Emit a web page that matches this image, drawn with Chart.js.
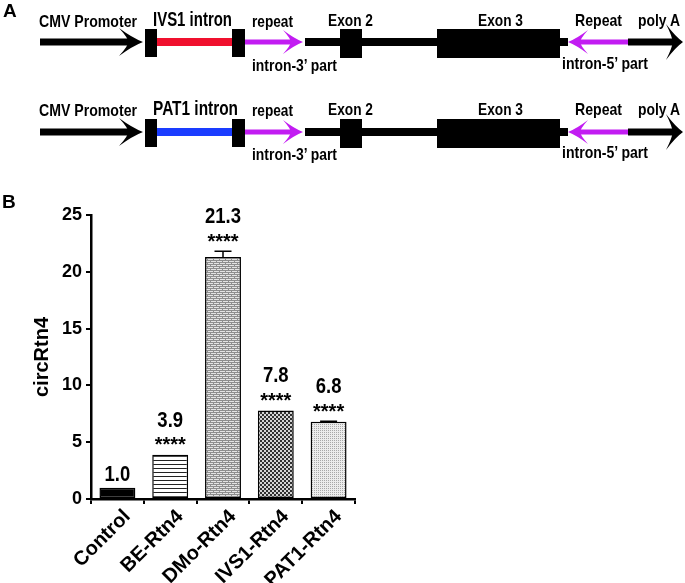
<!DOCTYPE html>
<html><head><meta charset="utf-8">
<script src="https://cdn.jsdelivr.net/npm/chart.js@4.4.0/dist/chart.umd.min.js"></script>
<style>
html,body{margin:0;padding:0;background:#fff;}
#wrap{position:relative;width:685px;height:583px;overflow:hidden;background:#fff;}
#chart{position:absolute;left:0;top:0;}
#schem{position:absolute;left:0;top:0;}
</style></head><body>
<div id="wrap">
<canvas id="chart" width="685" height="583"></canvas>
<svg id="schem" width="685" height="190" xmlns="http://www.w3.org/2000/svg"></svg>
</div>
<script>
// ---- data ----
const categories = ['Control', 'BE-Rtn4', 'DMo-Rtn4', 'IVS1-Rtn4', 'PAT1-Rtn4'];
const values = [1.0, 3.9, 21.3, 7.8, 6.8];
const errors = [0, 0, 0.5, 0, 0.05];
const valueLabels = ['1.0', '3.9', '21.3', '7.8', '6.8'];
const significance = ['', '****', '****', '****', '****'];
const yTicks = [0, 5, 10, 15, 20, 25];
const yTitle = 'circRtn4';
const intronNames = ['IVS1 intron', 'PAT1 intron'];

const NARROW = "'Liberation Sans Narrow','Arial Narrow','Liberation Sans',Arial,sans-serif";
const SANS = "'Liberation Sans',Arial,sans-serif";

// ---- Panel A schematic (SVG) ----
function arrowHead(tx, ty, dir, L, H, color) {
  const X = k => (tx - dir * k).toFixed(1);
  return `<path fill="${color}" d="M${tx},${ty} Q${X(0.45*L)},${ty-0.3*H} ${X(L)},${ty-H} Q${X(0.6*L)},${ty-0.25*H} ${X(0.62*L)},${ty} Q${X(0.6*L)},${ty+0.25*H} ${X(L)},${ty+H} Q${X(0.45*L)},${ty+0.3*H} ${tx},${ty} Z"/>`;
}
function txt(s, x, y, w, size) {
  return `<text x="${x}" y="${y}" font-family="${NARROW.replace(/'/g,'&quot;')}" font-weight="bold" font-size="${size}" textLength="${w}" lengthAdjust="spacingAndGlyphs" fill="#000">${s}</text>`;
}
function row(dy, ty, name, nameW, color) {
  const c = 42 + dy;
  let s = '';
  s += `<rect x="40" y="${c-3.5}" width="90" height="7" fill="#000"/>`;
  s += arrowHead(143, c, 1, 24, 14, '#000');
  s += `<rect x="157" y="${c-4}" width="76" height="8" fill="${color}"/>`;
  s += `<rect x="145" y="${c-13}" width="12" height="28" fill="#000"/>`;
  s += `<rect x="232" y="${c-13}" width="13" height="28" fill="#000"/>`;
  s += `<rect x="245" y="${c-2.5}" width="47" height="5" fill="#c21cf2"/>`;
  s += arrowHead(303, c, 1, 20, 12, '#c21cf2');
  s += `<rect x="305" y="${c-4}" width="263" height="8" fill="#000"/>`;
  s += `<rect x="340" y="${c-13}" width="22" height="29" fill="#000"/>`;
  s += `<rect x="437" y="${c-13}" width="123" height="29" fill="#000"/>`;
  s += `<rect x="580" y="${c-2.5}" width="49" height="5" fill="#c21cf2"/>`;
  s += arrowHead(568, c, -1, 20, 12, '#c21cf2');
  s += `<rect x="628" y="${c-3.5}" width="46" height="7" fill="#000"/>`;
  s += arrowHead(683, c, 1, 17, 18, '#000');
  s += txt('CMV Promoter', 39, 27 + ty, 98, 17);
  s += txt(name, 153, 26 + ty, nameW, 20);
  s += txt('repeat', 252, 27 + ty, 41, 17);
  s += txt('intron-3\u2019 part', 252, 71 + ty, 85, 17);
  s += txt('Exon 2', 328, 26 + ty, 45, 17);
  s += txt('Exon 3', 478, 26 + ty, 45, 17);
  s += txt('Repeat', 575, 26 + ty, 47, 17);
  s += txt('poly A', 638, 26 + ty, 42, 17);
  s += txt('intron-5\u2019 part', 562, 69 + ty, 86, 17);
  return s;
}
let svg = '';
svg += `<text x="3" y="17" font-family="${SANS.replace(/'/g,'&quot;')}" font-weight="bold" font-size="19" fill="#000">A</text>`;
svg += row(0, 0, intronNames[0], 79, '#f0102e');
svg += row(90, 89, intronNames[1], 85, '#1a3cff');
document.getElementById('schem').innerHTML = svg;

// ---- patterns ----
function makePattern(w, h, draw) {
  const c = document.createElement('canvas');
  c.width = w; c.height = h;
  const g = c.getContext('2d');
  draw(g);
  return g.createPattern(c, 'repeat');
}
const solid = '#000000';
const stripes = makePattern(4, 4, g => {
  g.fillStyle = '#fff'; g.fillRect(0, 0, 4, 4);
  g.fillStyle = '#222'; g.fillRect(0, 0, 4, 1);
});
const brick = makePattern(6, 4, g => {
  g.fillStyle = '#e4e4e4'; g.fillRect(0, 0, 6, 4);
  g.fillStyle = '#8e8e8e';
  g.fillRect(0, 0, 6, 1); g.fillRect(0, 1, 1, 1);
  g.fillRect(0, 2, 6, 1); g.fillRect(3, 3, 1, 1);
});
const checker = makePattern(4, 4, g => {
  g.fillStyle = '#d4d4d4'; g.fillRect(0, 0, 4, 4);
  g.fillStyle = '#303030'; g.fillRect(0, 0, 2, 2); g.fillRect(2, 2, 2, 2);
});
const stipple = makePattern(2, 2, g => {
  g.fillStyle = '#ececec'; g.fillRect(0, 0, 2, 2);
  g.fillStyle = '#a8a8a8'; g.fillRect(0, 0, 1, 1);
});
const fills = [solid, stripes, brick, checker, stipple];

// ---- annotations plugin ----
function narrowText(ctx, s, x, y, sx) {
  ctx.save();
  ctx.translate(x, y);
  ctx.scale(sx, 1);
  ctx.fillText(s, 0, 0);
  ctx.restore();
}
const annot = {
  id: 'annot',
  afterDatasetsDraw(chart) {
    const ctx = chart.ctx;
    const ys = chart.scales.y;
    const meta = chart.getDatasetMeta(0);
    ctx.save();
    meta.data.forEach((bar, i) => {
      const x = bar.x;
      const yTop = ys.getPixelForValue(values[i] + errors[i]);
      if (errors[i] > 0) {
        ctx.strokeStyle = '#000'; ctx.lineWidth = 1.5;
        ctx.beginPath();
        ctx.moveTo(x, bar.y); ctx.lineTo(x, yTop);
        ctx.moveTo(x - 8.5, yTop); ctx.lineTo(x + 8.5, yTop);
        ctx.stroke();
      }
      ctx.fillStyle = '#000';
      ctx.textAlign = 'center';
      ctx.textBaseline = 'alphabetic';
      const hasSig = significance[i] !== '';
      ctx.font = `bold 22px ${SANS}`;
      narrowText(ctx, valueLabels[i], x, yTop - (hasSig ? 28 : 7), 0.84);
      if (hasSig) {
        ctx.font = `bold 20px ${SANS}`;
        ctx.fillText(significance[i], x, yTop - 15 + 11.5);
      }
    });
    ctx.restore();
  },
  afterDraw(chart) {
    const ctx = chart.ctx;
    ctx.save();
    ctx.fillStyle = '#000';
    ctx.font = `bold 19px ${SANS}`;
    ctx.textBaseline = 'alphabetic';
    ctx.textAlign = 'left';
    ctx.fillText('B', 2, 208);
    ctx.restore();
  }
};

new Chart(document.getElementById('chart'), {
  type: 'bar',
  data: {
    labels: categories,
    datasets: [{
      data: values,
      backgroundColor: fills,
      borderColor: '#000',
      borderWidth: 1.5,
      borderSkipped: false,
      barPercentage: 0.68,
      categoryPercentage: 1.0
    }]
  },
  options: {
    responsive: false,
    animation: false,
    devicePixelRatio: 1,
    layout: { padding: { left: 0, top: 215, right: 330, bottom: 0 } },
    plugins: { legend: { display: false }, tooltip: { enabled: false } },
    scales: {
      x: {
        offset: true,
        grid: { display: true, drawOnChartArea: false, drawTicks: true, tickLength: 5, color: '#000', lineWidth: 2 },
        border: { display: true, color: '#000', width: 2.5 },
        ticks: {
          color: '#000', autoSkip: false, maxRotation: 45, minRotation: 45, padding: 1, labelOffset: 10,
          font: { family: SANS, weight: 'bold', size: 20 }
        },
        afterFit(s) { s.height = 84; }
      },
      y: {
        min: 0, max: 25,
        afterBuildTicks(s) { s.ticks = yTicks.map(v => ({ value: v })); },
        grid: { display: true, drawOnChartArea: false, drawTicks: true, tickLength: 5, color: '#000', lineWidth: 2 },
        border: { display: true, color: '#000', width: 2.5 },
        ticks: {
          color: '#000', padding: 4,
          font: { family: SANS, weight: 'bold', size: 18 }
        },
        title: {
          display: true, text: yTitle, color: '#000',
          font: { family: SANS, weight: 'bold', size: 20 },
          padding: { top: 30, bottom: 0 }
        },
        afterFit(s) { s.width = 91; }
      }
    }
  },
  plugins: [annot]
});
</script>
</body></html>
